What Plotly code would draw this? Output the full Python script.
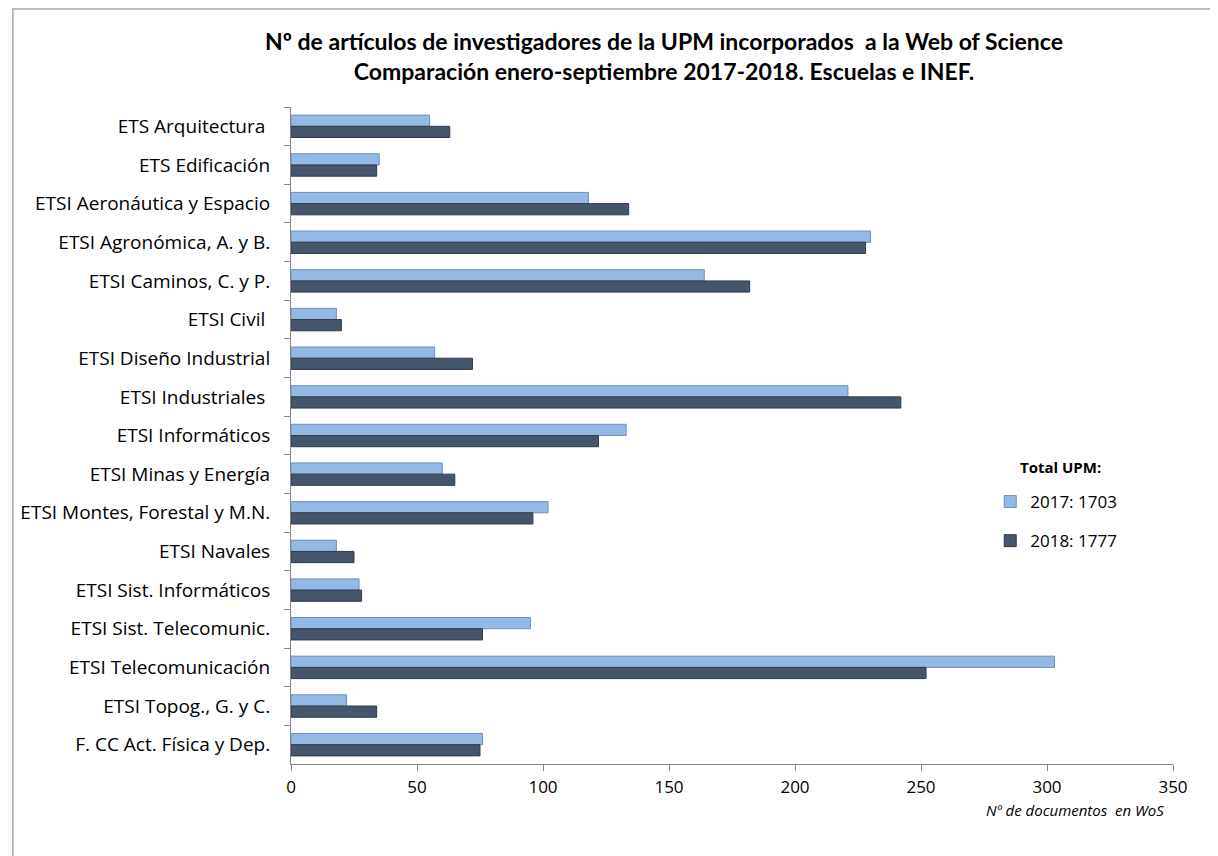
import plotly.graph_objects as go

categories = [
    "ETS Arquitectura ", "ETS Edificación", "ETSI Aeronáutica y Espacio",
    "ETSI Agronómica, A. y B.", "ETSI Caminos, C. y P.", "ETSI Civil ",
    "ETSI Diseño Industrial", "ETSI Industriales ", "ETSI Informáticos",
    "ETSI Minas y Energía", "ETSI Montes, Forestal y M.N.", "ETSI Navales",
    "ETSI Sist. Informáticos", "ETSI Sist. Telecomunic.", "ETSI Telecomunicación",
    "ETSI Topog., G. y C.", "F. CC Act. Física y Dep.",
]
values_2017 = [55, 35, 118, 230, 164, 18, 57, 221, 133, 60, 102, 18, 27, 95, 303, 22, 76]
values_2018 = [63, 34, 134, 228, 182, 20, 72, 242, 122, 65, 96, 25, 28, 76, 252, 34, 75]
series_names = ["2017: 1703", "2018: 1777"]
x_ticks = [0, 50, 100, 150, 200, 250, 300, 350]

FONT = "Open Sans"
OFF = 8  # page body margin
W, H = 1210, 848
L, R, T, B = 280, 44.5, 99, 92

pw = W - L - R
ph = H - T - B


def px_x(p):
    return (p - OFF - L) / pw


def px_y(p):
    return (H - B - (p - OFF)) / ph


fig = go.Figure()
fig.add_trace(go.Bar(
    y=categories, x=values_2017, orientation="h", name=series_names[0], legendgroup="a",
    marker=dict(color="#93B9E4", line=dict(color="#6F8FB5", width=1)),
))
fig.add_trace(go.Bar(
    y=categories, x=values_2018, orientation="h", name=series_names[1], legendgroup="b",
    marker=dict(color="#45566C", line=dict(color="#2E3B4C", width=1)),
))

fig.update_layout(
    width=W, height=H,
    margin=dict(l=L, r=R, t=T, b=B),
    paper_bgcolor="white", plot_bgcolor="white",
    barmode="group", bargap=0.42, bargroupgap=0.0,
    font=dict(family=FONT, size=17, color="#000000"),
    title=dict(
        text="<b>Nº de artículos de investigadores de la UPM incorporados  a la Web of Science<br>Comparación enero-septiembre 2017-2018. Escuelas e INEF.</b>",
        x=(664 - OFF) / W, xanchor="center", y=1 - 42 / H, yanchor="top",
        font=dict(family="Lato", size=23, color="#000000"),
    ),
    xaxis=dict(
        range=[0, 350], tickvals=x_ticks, showgrid=False, zeroline=False,
        showline=True, linecolor="#868686", linewidth=1,
        ticks="outside", ticklen=6, tickcolor="#868686",
        tickfont=dict(family=FONT, size=17), ticklabelstandoff=2,
    ),
    yaxis=dict(
        autorange="reversed", showgrid=False, zeroline=False,
        showline=True, linecolor="#868686", linewidth=1,
        ticks="outside", ticklen=6, tickcolor="#868686", tickson="boundaries",
        tickfont=dict(family=FONT, size=19), ticklabelstandoff=16,
    ),
    legend=dict(
        x=px_x(990), y=px_y(484), xanchor="left", yanchor="top",
        font=dict(family=FONT, size=17), tracegroupgap=14, itemwidth=30,
        bgcolor="rgba(0,0,0,0)",
    ),
    showlegend=True,
    annotations=[
        dict(
            text="<i>Nº de documentos  en WoS</i>", xref="paper", yref="paper",
            x=px_x(1166), y=px_y(810), xanchor="right", yanchor="middle",
            showarrow=False, font=dict(family=FONT, size=15, color="#000000"),
        ),
        dict(
            text="<b>Total UPM:</b>", xref="paper", yref="paper",
            x=px_x(1018), y=px_y(467), xanchor="left", yanchor="middle",
            showarrow=False, font=dict(family=FONT, size=15, color="#000000"),
        ),
    ],
    shapes=[dict(
        type="rect", xref="paper", yref="paper",
        x0=px_x(8.8), x1=px_x(1240), y0=px_y(880), y1=px_y(9),
        line=dict(color="#A6A6A6", width=1.5), fillcolor="rgba(0,0,0,0)", layer="below",
    )],
)

fig.write_html("out.html")
